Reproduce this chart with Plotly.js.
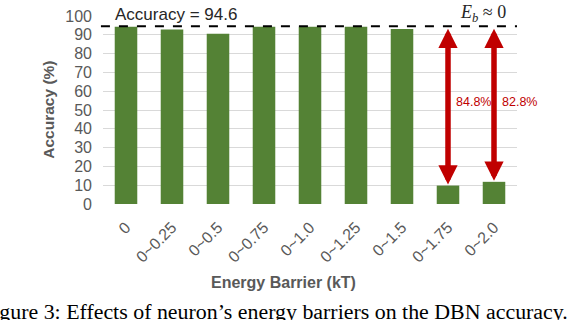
<!DOCTYPE html>
<html>
<head>
<meta charset="utf-8">
<script src="https://cdn.plot.ly/plotly-3.0.1.min.js"></script>
<style>
  html, body { margin: 0; padding: 0; background: #fff; }
  #chart { width: 572px; height: 320px; }
</style>
</head>
<body>
<div id="chart"></div>
<script>
// energy barrier ranges (kT) and resulting DBN accuracy (%)
var barriers = ['0', '0~0.25', '0~0.5', '0~0.75', '0~1.0', '0~1.25', '0~1.5', '0~1.75', '0~2.0'];
var accuracy = [94.3, 92.8, 90.6, 94.3, 94.3, 94.3, 93.1, 9.8, 11.8];
var baseline = 94.6;

// drops marked with red arrows
var dropCats = ['0~1.75', '0~2.0'];
var dropVals = [9.8, 11.8];
var dropLabels = ['84.8%', '82.8%'];

var green = '#548235';
var red = '#c00000';
var gray = '#595959';

var bars = {
  x: barriers,
  y: accuracy,
  type: 'bar',
  marker: {color: green},
  hoverinfo: 'x+y'
};

var notes = [];

// red double-headed arrows from baseline down to the bar
for (let i = 0; i < dropCats.length; i++) {
  notes.push({
    x: dropCats[i], y: dropVals[i],
    ax: dropCats[i], ay: baseline,
    xref: 'x', yref: 'y', axref: 'x', ayref: 'y',
    text: '', showarrow: true,
    arrowside: 'end+start',
    arrowhead: 2, startarrowhead: 2,
    arrowsize: 0.7, startarrowsize: 0.7,
    arrowwidth: 5.5, arrowcolor: red,
    standoff: 1, startstandoff: 1
  });
  notes.push({
    x: dropCats[i], y: 54, xref: 'x', yref: 'y',
    xanchor: 'center', yanchor: 'middle',
    xshift: 25,
    text: dropLabels[i], showarrow: false,
    font: {family: 'Liberation Sans, Arial', size: 12.5, color: red}
  });
}

notes.push({
  x: 0.1763, y: 1.009, xref: 'paper', yref: 'paper',
  xanchor: 'center', yanchor: 'middle',
  text: 'Accuracy = ' + baseline, showarrow: false,
  bgcolor: '#fff', borderpad: 0,
  font: {family: 'Liberation Sans, Arial', size: 17, color: '#262626'}
});
notes.push({
  x: 0.918, y: 1.013, xref: 'paper', yref: 'paper',
  xanchor: 'center', yanchor: 'middle',
  text: '<i>E</i><sub><i>b</i></sub> ≈ 0', showarrow: false,
  font: {family: 'Liberation Serif, Times New Roman', size: 18, color: '#262626'}
});
// axis titles
notes.push({
  x: -0.1336, y: 0.5, xref: 'paper', yref: 'paper',
  xanchor: 'center', yanchor: 'middle',
  text: '<b>Accuracy (%)</b>', textangle: -90, showarrow: false,
  font: {family: 'Liberation Sans, Arial', size: 15.5, color: gray}
});
notes.push({
  x: 0.4348, y: -0.4157, xref: 'paper', yref: 'paper',
  xanchor: 'center', yanchor: 'middle',
  text: '<b>Energy Barrier (kT)</b>', showarrow: false,
  font: {family: 'Liberation Sans, Arial', size: 16, color: gray}
});
// figure caption, cropped at the left edge like the source
notes.push({
  x: -0.2996, y: -0.574, xref: 'paper', yref: 'paper',
  xanchor: 'left', yanchor: 'middle',
  text: 'Figure 3: Effects of neuron’s energy barriers on the DBN accuracy.',
  showarrow: false,
  font: {family: 'Liberation Serif, Times New Roman', size: 21.9, color: '#000'}
});

var layout = {
  width: 572, height: 320,
  margin: {l: 103, r: 55, t: 16, b: 116},
  paper_bgcolor: '#fff', plot_bgcolor: '#fff',
  showlegend: false,
  bargap: 0.51,
  font: {family: 'Liberation Sans, Arial', color: gray},
  xaxis: {
    type: 'category',
    range: [-0.5, 8.5],
    autorange: false,
    tickangle: -45,
    tickfont: {size: 16, color: gray},
    showgrid: false, zeroline: false,
    showline: false, ticks: '',
    ticklabelstandoff: 10
  },
  yaxis: {
    range: [0, 100], autorange: false, dtick: 10,
    tickfont: {size: 16, color: gray},
    gridcolor: '#d9d9d9', gridwidth: 1,
    zeroline: false, showline: false, ticks: '',
    ticklabelstandoff: 10
  },
  shapes: [{
    type: 'line', xref: 'paper', yref: 'y',
    x0: -0.005, x1: 1, y0: baseline, y1: baseline,
    line: {color: '#000', width: 2, dash: 'dash'}
  }],
  annotations: notes
};

Plotly.newPlot('chart', [bars], layout, {displayModeBar: false, staticPlot: true});
</script>
</body>
</html>
